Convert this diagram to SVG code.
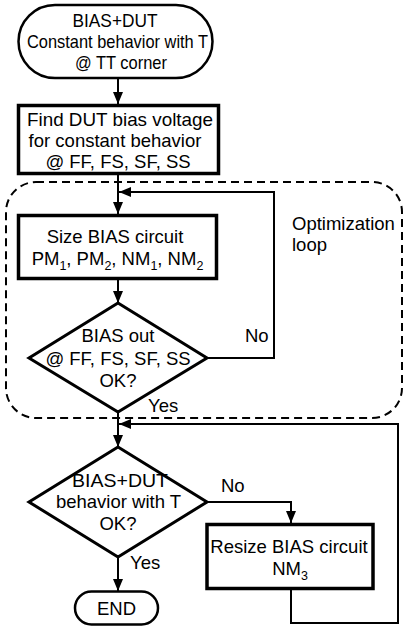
<svg xmlns="http://www.w3.org/2000/svg" width="405" height="628" viewBox="0 0 405 628">
  <style>
    text { font-family: "Liberation Sans", Arial, sans-serif; font-size: 18.5px; fill: #000; }
    .c { text-anchor: middle; }
    .sub { font-size: 12.5px; }
    .term { fill: #fff; stroke: #000; stroke-width: 2.5; }
    .box { fill: #fff; stroke: #000; stroke-width: 3.5; }
    .dec { fill: #fff; stroke: #000; stroke-width: 3; }
    .wire { fill: none; stroke: #000; stroke-width: 2; }
    .loop { fill: none; stroke: #000; stroke-width: 2; stroke-dasharray: 8 5; }
  </style>
  <defs>
    <marker id="arrow" markerUnits="userSpaceOnUse" markerWidth="12" markerHeight="12" viewBox="0 0 12 12" refX="12" refY="6" orient="auto">
      <path d="M0,1 L12,6 L0,11 Z" fill="#000"/>
    </marker>
  </defs>

  <!-- optimization loop boundary -->
  <g id="optimization-loop">
    <rect class="loop" x="6" y="182" width="396" height="236" rx="30" ry="30"/>
    <text x="292" y="230">Optimization</text>
    <text x="292" y="251">loop</text>
  </g>

  <!-- connectors -->
  <g id="connectors">
    <line class="wire" x1="118" y1="78" x2="118" y2="104" marker-end="url(#arrow)"/>
    <line class="wire" x1="118" y1="175" x2="118" y2="214" marker-end="url(#arrow)"/>
    <line class="wire" x1="118" y1="280" x2="118" y2="303" marker-end="url(#arrow)"/>
    <polyline class="wire" points="207,358 274,358 274,192 119,192" marker-end="url(#arrow)"/>
    <line class="wire" x1="118" y1="412" x2="118" y2="447" marker-end="url(#arrow)"/>
    <polyline class="wire" points="207,502 291,502 291,523" marker-end="url(#arrow)"/>
    <polyline class="wire" points="291,590 291,623 398,623 398,424 119,424" marker-end="url(#arrow)"/>
    <line class="wire" x1="118" y1="557" x2="118" y2="591" marker-end="url(#arrow)"/>
    <text x="245" y="342">No</text>
    <text x="148" y="412">Yes</text>
    <text x="221" y="492">No</text>
    <text x="130" y="569">Yes</text>
  </g>

  <g id="start">
    <rect class="term" x="18.5" y="5" width="194" height="73" rx="36.5" ry="36.5"/>
    <text class="c" x="115" y="27" textLength="85" lengthAdjust="spacingAndGlyphs">BIAS+DUT</text>
    <text class="c" x="117.5" y="48" textLength="181" lengthAdjust="spacingAndGlyphs">Constant behavior with T</text>
    <text class="c" x="121" y="69" textLength="92" lengthAdjust="spacingAndGlyphs">@ TT corner</text>
  </g>

  <g id="find-bias">
    <rect class="box" x="18.5" y="105.5" width="200" height="68"/>
    <text class="c" x="120" y="126" textLength="186" lengthAdjust="spacingAndGlyphs">Find DUT bias voltage</text>
    <text class="c" x="115" y="147">for constant behavior</text>
    <text class="c" x="118" y="168">@ FF, FS, SF, SS</text>
  </g>

  <g id="size-bias">
    <rect class="box" x="18.5" y="215.5" width="198" height="63"/>
    <text class="c" x="115" y="243">Size BIAS circuit</text>
    <text class="c" x="117.5" y="265">PM<tspan class="sub" dy="5">1</tspan><tspan dy="-5">, PM</tspan><tspan class="sub" dy="5">2</tspan><tspan dy="-5">, NM</tspan><tspan class="sub" dy="5">1</tspan><tspan dy="-5">, NM</tspan><tspan class="sub" dy="5">2</tspan></text>
  </g>

  <g id="bias-check">
    <polygon class="dec" points="118,303 207,358 118,412 29,358"/>
    <text class="c" x="118" y="342">BIAS out</text>
    <text class="c" x="118" y="365">@ FF, FS, SF, SS</text>
    <text class="c" x="118" y="387">OK?</text>
  </g>

  <g id="temp-check">
    <polygon class="dec" points="118,447 207,502 118,557 29,502"/>
    <text class="c" x="120" y="487" textLength="96" lengthAdjust="spacingAndGlyphs">BIAS+DUT</text>
    <text class="c" x="118.5" y="508">behavior with T</text>
    <text class="c" x="118" y="530">OK?</text>
  </g>

  <g id="resize-bias">
    <rect class="box" x="207" y="524.5" width="166" height="64"/>
    <text class="c" x="289" y="553">Resize BIAS circuit</text>
    <text class="c" x="290" y="575">NM<tspan class="sub" dy="5">3</tspan></text>
  </g>

  <g id="end">
    <rect class="term" x="75" y="591.5" width="83" height="33" rx="16.5" ry="16.5"/>
    <text class="c" x="116.5" y="615">END</text>
  </g>
</svg>
